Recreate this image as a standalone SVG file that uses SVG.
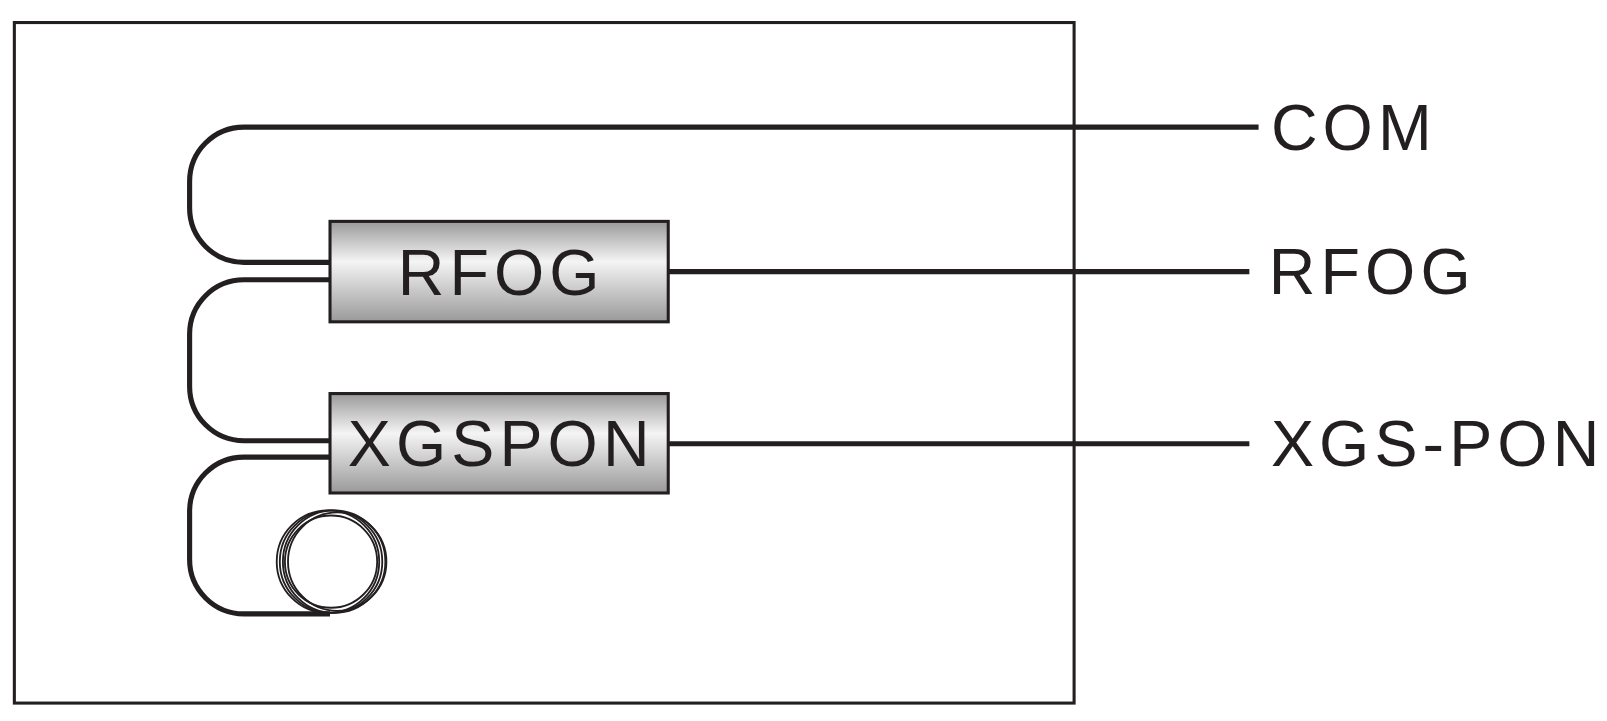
<svg xmlns="http://www.w3.org/2000/svg" width="1607" height="721" viewBox="0 0 1607 721">
<defs>
<linearGradient id="g" x1="0" y1="0" x2="0" y2="1">
<stop offset="0" stop-color="#9a9a9a"/><stop offset="0.4" stop-color="#f4f4f4"/><stop offset="1" stop-color="#9a9a9a"/>
</linearGradient>
<style>
.w{fill:none;stroke:#231f20;stroke-width:5}
.c{fill:none;stroke:#231f20;stroke-width:1.8}
.b{fill:url(#g);stroke:#231f20;stroke-width:3}
.t{font-family:"Liberation Sans",Arial,sans-serif;font-size:63px;letter-spacing:5px;fill:#231f20}
</style>
</defs>
<g transform="scale(1.0249)">
<rect x="14" y="22" width="1034" height="664" fill="none" stroke="#231f20" stroke-width="3"/>
<g id="connectors">
<path class="w" d="M1228 124H238A53 53 0 0 0 185 177V203A53 53 0 0 0 238 256H322"/>
<path class="w" d="M322 273H238A53 53 0 0 0 185 326V377A53 53 0 0 0 238 430H322"/>
<path class="w" d="M322 446H238A53 53 0 0 0 185 499V546A53 53 0 0 0 238 599H322"/>
<path class="w" d="M652 265H1219"/>
<path class="w" d="M652 433H1219"/>
</g>
<g id="coil">
<circle class="c" cx="320" cy="548" r="50"/>
<circle class="c" cx="323" cy="548" r="50"/>
<circle class="c" cx="326" cy="548" r="50"/>
<circle class="c" cx="329" cy="548" r="48"/>
<circle class="c" cx="323" cy="548" r="45"/>
</g>
<g id="rfog"><rect class="b" x="322" y="216" width="330" height="98"/><text class="t" x="489" y="288" text-anchor="middle">RFOG</text></g>
<g id="xgspon"><rect class="b" x="322" y="384" width="330" height="97"/><text class="t" x="489" y="455" text-anchor="middle">XGSPON</text></g>
<g id="labels">
<text class="t" x="1240" y="146">COM</text>
<text class="t" x="1238" y="287">RFOG</text>
<text class="t" x="1240" y="455">XGS-PON</text>
</g>
</g>
</svg>
